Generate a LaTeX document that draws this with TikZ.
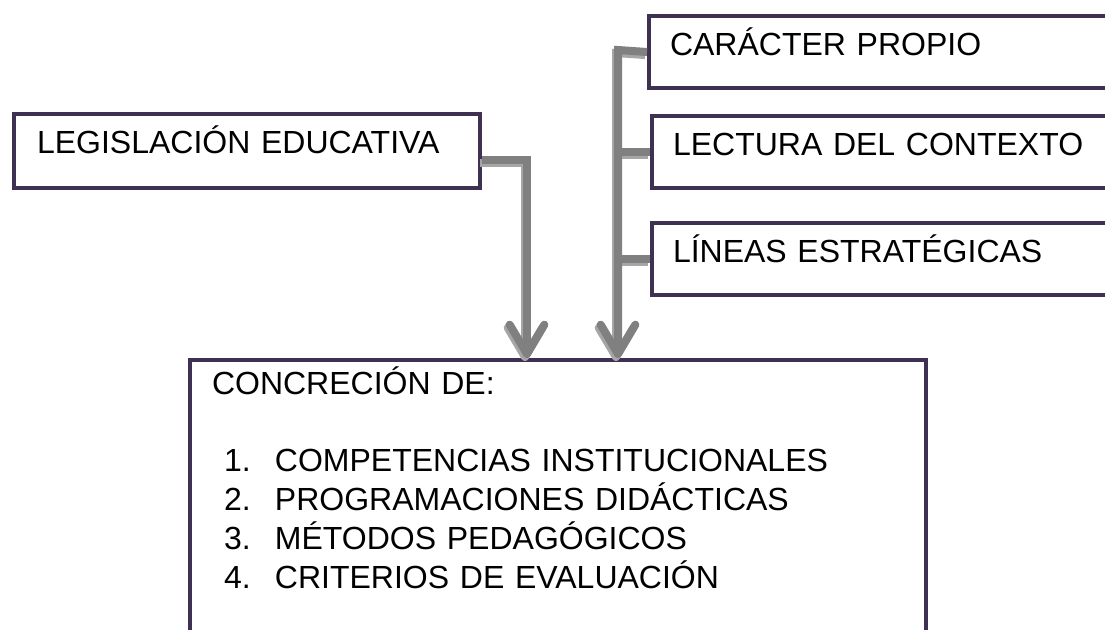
\documentclass[tikz,border=0pt]{standalone}
\usepackage{fontspec}
\setmainfont{Liberation Sans}
\usetikzlibrary{arrows.meta}
\definecolor{borde}{HTML}{3F3151}
\definecolor{conector}{HTML}{808080}
\definecolor{sombra}{HTML}{A6A6A6}

\begin{document}
\begin{tikzpicture}
  [x=0.75pt,y=-0.75pt,
   caja/.style={draw=borde,line width=3pt,anchor=north west,align=left,
     inner ysep=0pt,inner xsep=15.75pt,text width=500pt,
     text height=29.25pt,text depth=24.75pt,font=\fontsize{24}{29.25}\selectfont},
   linea/.style={line width=6pt,draw=conector},
   flecha/.style={linea,-{Straight Barb[round,length=22pt,width=26pt]}},
   hueco/.style={transform canvas={xshift=-1.5pt,yshift=-2.25pt},draw=sombra}]
  \useasboundingbox (0,0) rectangle (1105,629);
  \clip (0,0) rectangle (1105,629);

  \node[caja,text width=315pt,inner xsep=17.25pt,text height=29.25pt,text depth=26.25pt]
    (leg) at (12,112) {LEGISLACIÓN EDUCATIVA};
  \node[caja] (car) at (647,14) {CARÁCTER PROPIO};
  \node[caja] (lec) at (650,114) {LECTURA DEL CONTEXTO};
  \node[caja] (lin) at (650,221) {LÍNEAS ESTRATÉGICAS};
  \node[caja,text width=519pt,inner xsep=16.5pt,text height=25.5pt,text depth=240pt]
    (meta) at (188,358) {CONCRECIÓN DE:\\[28.5pt]
    \hspace*{9pt}\makebox[38.25pt][l]{1.}COMPETENCIAS INSTITUCIONALES\\
    \hspace*{9pt}\makebox[38.25pt][l]{2.}PROGRAMACIONES DIDÁCTICAS\\
    \hspace*{9pt}\makebox[38.25pt][l]{3.}MÉTODOS PEDAGÓGICOS\\
    \hspace*{9pt}\makebox[38.25pt][l]{4.}CRITERIOS DE EVALUACIÓN};

  \coordinate (codo) at (527,160);
  \coordinate (tronco) at (618,50);

  \foreach \estilo in {hueco,conector}
  {
    \draw[flecha,\estilo] (leg.east |- codo) -- (codo) -- (codo |- meta.north);
    \draw[flecha,\estilo] (car.west) -- (tronco) -- (tronco |- meta.north);
    \foreach \n in {lec,lin}
      \draw[linea,\estilo] (tronco |- \n.west) -- (\n.west);
  }
\end{tikzpicture}
\end{document}
